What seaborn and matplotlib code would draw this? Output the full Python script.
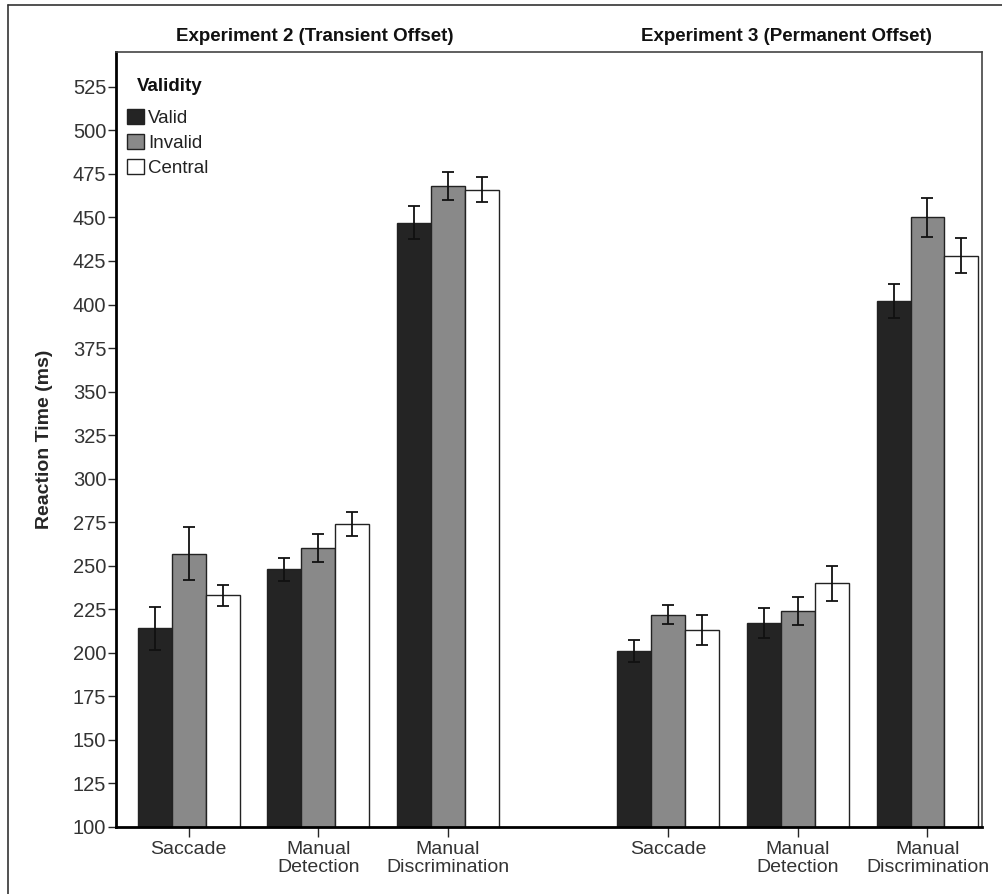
import pandas as pd
import matplotlib.pyplot as plt
import seaborn as sns
from matplotlib.transforms import blended_transform_factory
from matplotlib.lines import Line2D

# chart values
tasks = ["Saccade", "Manual\nDetection", "Manual\nDiscrimination"]
experiments = ["Experiment 2 (Transient Offset)", "Experiment 3 (Permanent Offset)"]
validity = ["Valid", "Invalid", "Central"]

# reaction times (ms), per experiment: rows = task, cols = validity
exp2_rt = [[214, 257, 233], [248, 260, 274], [447, 468, 466]]
exp3_rt = [[201, 222, 213], [217, 224, 240], [402, 450, 428]]
# error bar half widths
exp2_err = [[12.5, 15, 6], [6.5, 8, 7], [9.5, 8, 7]]
exp3_err = [[6.5, 5.5, 8.5], [8.5, 8, 10], [10, 11, 10]]

colors = ["#242424", "#898989", "#ffffff"]


def build_frame():
    # numeric x positions, with a wider gap between the two experiments
    x_pos = [[0, 1, 2], [3.7, 4.7, 5.7]]
    rows = []
    for e, (rts, errs) in enumerate([(exp2_rt, exp2_err), (exp3_rt, exp3_err)]):
        for t in range(len(tasks)):
            for v, name in enumerate(validity):
                rows.append({"x": x_pos[e][t], "task": tasks[t], "exp": experiments[e],
                             "Validity": name, "rt": rts[t][v], "err": errs[t][v]})
    return pd.DataFrame(rows), x_pos


def create_plot():
    df, x_pos = build_frame()

    sns.set_style("white")
    plt.rcParams['font.family'] = ['Liberation Sans', 'DejaVu Sans']

    fig = plt.figure(figsize=(10.03, 8.94), dpi=100)
    ax = fig.add_axes([0.1157, 0.075, 0.8633, 0.8668])

    sns.barplot(data=df, x="x", y="rt", hue="Validity", hue_order=validity,
                palette=colors, native_scale=True, width=0.785, errorbar=None,
                edgecolor="#222222", linewidth=1.0, saturation=1, ax=ax)

    # error bars on each bar
    for cont, name in zip(ax.containers, validity):
        sub = df[df["Validity"] == name].sort_values("x")
        for bar, err in zip(cont.patches, sub["err"]):
            cx = bar.get_x() + bar.get_width() / 2
            ax.errorbar(cx, bar.get_height(), yerr=err, fmt="none", ecolor="#111111",
                        elinewidth=1.3, capsize=4.5, capthick=1.3, zorder=5)

    ax.set_ylim(100, 545)
    ax.set_xlim(-0.56, 6.12)
    ax.set_yticks(range(100, 526, 25))
    ax.tick_params(axis="y", labelsize=14.5, labelcolor="#333333", length=6, width=1,
                   direction="out", left=True, pad=1)
    flat_pos = x_pos[0] + x_pos[1]
    ax.set_xticks(flat_pos)
    ax.set_xticklabels(tasks * 2, fontsize=14, color="#333333", linespacing=1.12)
    ax.tick_params(axis="x", length=7, width=1, direction="out", bottom=True, pad=3)

    ax.set_xlabel("")
    ax.set_ylabel("Reaction Time (ms)", fontsize=14, fontweight="bold", labelpad=14)

    for side in ["left", "bottom"]:
        ax.spines[side].set_linewidth(2)
        ax.spines[side].set_color("black")
    for side in ["top", "right"]:
        ax.spines[side].set_linewidth(1.2)
        ax.spines[side].set_color("#444444")

    # experiment titles above each half
    trans = blended_transform_factory(ax.transData, ax.transAxes)
    title_x = [x_pos[0][1] - 0.03, x_pos[1][1] - 0.09]
    for cx, title in zip(title_x, experiments):
        ax.text(cx, 1.009, title, transform=trans, ha="center", va="bottom",
                fontsize=13.5, fontweight="bold", color="#111111")

    # legend, with its title drawn as a separate text (indented like the original)
    ax.text(0.024, 0.956, "Validity", transform=ax.transAxes, ha="left", va="center",
            fontsize=13.5, fontweight="bold", color="#111111")
    leg = ax.legend(loc="upper left", bbox_to_anchor=(0.013, 0.927),
                    frameon=False, fontsize=13.5, handlelength=0.9, handleheight=0.9,
                    handletextpad=0.2, labelspacing=0.36, borderpad=0, borderaxespad=0)
    for h in leg.legend_handles:
        h.set_edgecolor("#222222")
        h.set_linewidth(1.0)
    for t in leg.get_texts():
        t.set_color("#222222")

    # outer frame lines (left and top)
    fig.add_artist(Line2D([0.008, 0.008], [0.0, 0.9945], transform=fig.transFigure,
                          color="#333333", linewidth=1.2))
    fig.add_artist(Line2D([0.008, 1.0], [0.9945, 0.9945], transform=fig.transFigure,
                          color="#333333", linewidth=1.2))

    fig.savefig("out.png", dpi=100)


if __name__ == "__main__":
    create_plot()
